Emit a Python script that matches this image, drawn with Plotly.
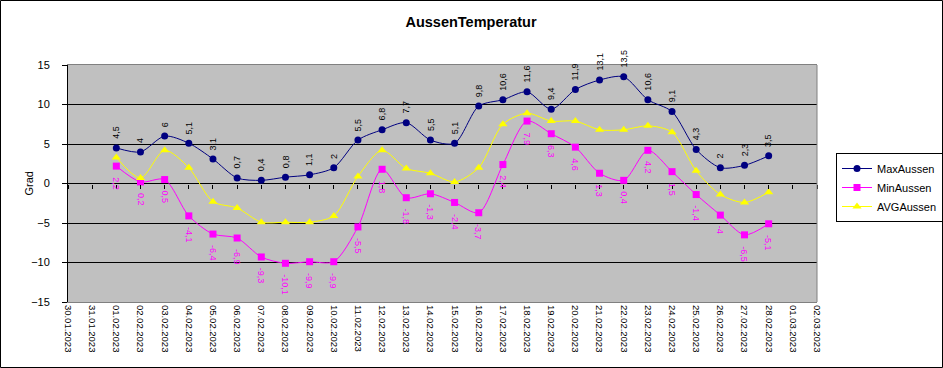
import plotly.graph_objects as go

dates = ["2023-02-%02d" % d for d in range(1, 29)]
max_aussen = [4.5, 4, 6, 5.1, 3.1, 0.7, 0.4, 0.8, 1.1, 2, 5.5, 6.8, 7.7, 5.5, 5.1, 9.8, 10.6, 11.6,
              9.4, 11.9, 13.1, 13.5, 10.6, 9.1, 4.3, 2, 2.3, 3.5]
min_aussen = [2.2, 0.2, 0.5, -4.1, -6.4, -6.9, -9.3, -10.1, -9.9, -9.9, -5.5, 1.8, -1.8, -1.3, -2.4,
              -3.7, 2.4, 7.9, 6.3, 4.6, 1.3, 0.4, 4.2, 1.5, -1.4, -4, -6.5, -5.1]
avg_aussen = [3.3, 0.7, 4.2, 2.0, -2.3, -3.1, -4.9, -4.9, -4.9, -4.1, 0.9, 4.2, 1.9, 1.3, 0.2, 2.0,
              7.5, 8.9, 7.9, 7.9, 6.8, 6.8, 7.3, 6.5, 1.6, -1.4, -2.4, -1.1]
x_range = ["2023-01-30", "2023-03-02"]
y_ticks = [-15, -10, -5, 0, 5, 10, 15]

FONT = "Liberation Sans, Arial, sans-serif"

def fmt(v):
    return ("%g" % v).replace(".", ",")

fig = go.Figure()
fig.add_trace(go.Scatter(x=dates, y=max_aussen, name="MaxAussen", mode="lines+markers",
                         line=dict(color="#000080", width=1, shape="spline", smoothing=0.8),
                         marker=dict(symbol="circle", size=7, color="#000080")))
fig.add_trace(go.Scatter(x=dates, y=min_aussen, name="MinAussen", mode="lines+markers",
                         line=dict(color="#FF00FF", width=1, shape="spline", smoothing=0.8),
                         marker=dict(symbol="square", size=7, color="#FF00FF")))
fig.add_trace(go.Scatter(x=dates, y=avg_aussen, name="AVGAussen", mode="lines+markers",
                         line=dict(color="#FFFF00", width=1, shape="spline", smoothing=0.8),
                         marker=dict(symbol="triangle-up", size=8, color="#FFFF00")))
# helper trace for the category axis crossing at 0 (tick marks)
fig.add_trace(go.Scatter(x=dates, y=max_aussen, xaxis="x2", mode="lines", opacity=0,
                         showlegend=False, hoverinfo="skip"))

annotations = []
for d, v in zip(dates, max_aussen):
    annotations.append(dict(x=d, y=v, text=fmt(v), textangle=-90, showarrow=False,
                            yanchor="bottom", xanchor="center", yshift=7,
                            font=dict(family=FONT, size=9, color="black")))
for d, v in zip(dates, min_aussen):
    annotations.append(dict(x=d, y=v, text=fmt(v), textangle=90, showarrow=False,
                            yanchor="top", xanchor="center", yshift=-9,
                            font=dict(family=FONT, size=9, color="#FF00FF")))
annotations.append(dict(text="Grad", xref="paper", yref="paper", x=-40 / 749, y=0.5,
                        xanchor="center", yanchor="middle", textangle=-90, showarrow=False,
                        font=dict(family=FONT, size=11, color="black")))

fig.update_layout(
    width=943, height=368,
    margin=dict(l=68, r=126, t=65, b=66),
    paper_bgcolor="white", plot_bgcolor="#C0C0C0",
    font=dict(family=FONT, size=11, color="black"),
    title=dict(text="<b>AussenTemperatur</b>", x=471 / 943, xref="container", xanchor="center",
               y=1 - 22 / 368, yref="container", yanchor="middle",
               font=dict(family=FONT, size=14.5, color="black")),
    xaxis=dict(type="date", range=x_range, dtick=86400000, tick0="2023-01-30",
               tickformat="%d.%m.%Y", tickangle=90, showgrid=False, zeroline=False,
               showline=True, linecolor="#808080", linewidth=1, mirror=True,
               ticks="", tickfont=dict(family=FONT, size=9.5, color="black")),
    xaxis2=dict(type="date", range=x_range, dtick=86400000, tick0="2023-01-30",
                overlaying="x", anchor="free", position=0.5, side="bottom",
                showticklabels=False, ticks="outside", ticklen=4, tickcolor="black",
                showgrid=False, zeroline=False, showline=False),
    yaxis=dict(range=[-15, 15], tickvals=y_ticks, showgrid=True, gridcolor="black", gridwidth=1,
               zeroline=False, showline=True, linecolor="black", linewidth=1,
               ticks="outside", ticklen=5, tickcolor="black", ticklabelstandoff=10,
               tickfont=dict(family=FONT, size=11, color="black")),
    legend=dict(x=836 / 943, y=1 - 153 / 368, xref="container", yref="container",
                xanchor="left", yanchor="top", bgcolor="white", bordercolor="black", borderwidth=1,
                font=dict(family=FONT, size=11, color="black"), tracegroupgap=0,
                itemwidth=30),
    annotations=annotations,
    showlegend=True,
)
fig.add_shape(type="line", xref="paper", yref="paper", x0=1, x1=1, y0=0, y1=1,
              line=dict(color="#808080", width=1))
fig.add_shape(type="rect", xref="paper", yref="paper", x0=-67.5 / 749, x1=1 + 125.5 / 749,
              y0=-65.5 / 237, y1=1 + 64.5 / 237, line=dict(color="black", width=1), layer="above")

fig.write_html("out.html", config={"displayModeBar": False},
               post_script="document.body.style.margin='0';")
